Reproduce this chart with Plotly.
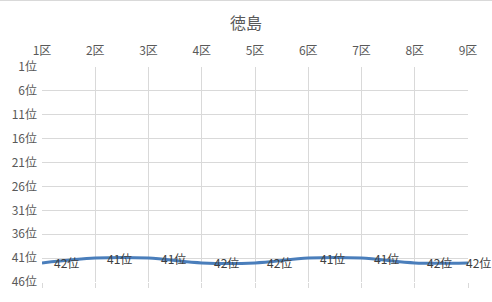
import plotly.graph_objects as go

districts = ["1区", "2区", "3区", "4区", "5区", "6区", "7区", "8区", "9区"]
ranks = [42, 41, 41, 42, 42, 41, 41, 42, 42]
rank_ticks = [1, 6, 11, 16, 21, 26, 31, 36, 41, 46]
title_text = "徳島"

font_family = "Noto Sans CJK JP, Noto Sans, sans-serif"
grid_color = "#d9d9d9"
text_gray = "#595959"

fig = go.Figure()
fig.add_trace(go.Scatter(
    x=districts,
    y=ranks,
    mode="lines",
    line=dict(color="#4a7ebb", width=3, shape="spline", smoothing=0.8),
    hoverinfo="skip",
    showlegend=False,
))
# invisible trace bound to the bottom axis so its tick marks render
fig.add_trace(go.Scatter(
    x=districts, y=ranks, xaxis="x2", mode="lines",
    line=dict(width=0), opacity=0, hoverinfo="skip", showlegend=False,
))

# data labels to the right of each point; the last one is kept inside the chart
annotations = []
for i, (d, r) in enumerate(zip(districts, ranks)):
    last = i == len(districts) - 1
    annotations.append(dict(
        x=d, y=r, xref="x", yref="y", text=f"{r}位", showarrow=False,
        xanchor="left", yanchor="middle", xshift=-4 if last else 10,
        font=dict(family=font_family, size=12, color="#404040"),
    ))

plot_h = 302 - 67 - 20
plot_w = 492 - 42 - 24
top_y = (302 - 20 - 0.5) / plot_h

fig.update_layout(
    width=492,
    height=302,
    margin=dict(l=42, r=24, t=67, b=20),
    paper_bgcolor="white",
    plot_bgcolor="white",
    title=dict(text=title_text, x=0.5, xanchor="center", y=1 - 23 / 302, yanchor="middle",
               font=dict(family=font_family, size=16, color=text_gray)),
    xaxis=dict(
        type="category",
        categoryorder="array",
        categoryarray=districts,
        side="top",
        range=[0, len(districts) - 1],
        showgrid=True,
        gridcolor=grid_color,
        gridwidth=1,
        zeroline=False,
        showline=False,
        ticks="",
        ticklabelstandoff=9,
        tickfont=dict(family=font_family, size=12, color=text_gray),
    ),
    xaxis2=dict(
        type="category",
        categoryorder="array",
        categoryarray=districts,
        overlaying="x",
        side="bottom",
        range=[0, len(districts) - 1],
        showgrid=False,
        showticklabels=False,
        ticks="outside",
        ticklen=5,
        tickcolor=grid_color,
        zeroline=False,
        showline=False,
        anchor="y",
    ),
    yaxis=dict(
        range=[46, 1],
        tickmode="array",
        tickvals=rank_ticks,
        ticktext=[f"{t}位" for t in rank_ticks],
        showgrid=True,
        gridcolor=grid_color,
        gridwidth=1,
        zeroline=False,
        showline=False,
        ticks="",
        ticklabelstandoff=4,
        tickfont=dict(family=font_family, size=12, color=text_gray),
    ),
    annotations=annotations,
    shapes=[dict(type="line", xref="paper", yref="paper",
                 x0=-42 / plot_w, x1=1 + 24 / plot_w, y0=top_y, y1=top_y,
                 line=dict(color="#d9d9d9", width=1))],
)

fig.write_html("out.html")
